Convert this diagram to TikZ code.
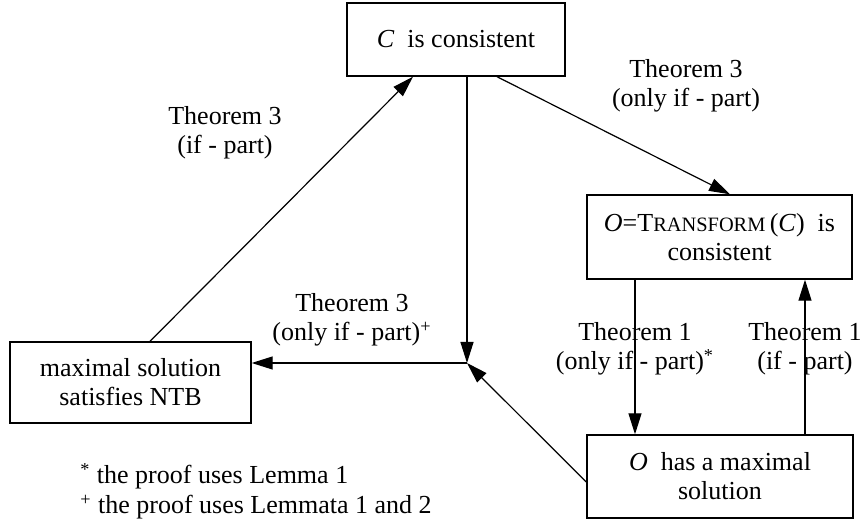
\documentclass[tikz,border=0pt]{standalone}
\usepackage{fontspec}
\setmainfont{Liberation Serif}
\usetikzlibrary{arrows.meta,calc}
\newcommand{\dfont}{\fontsize{13}{14.5}\selectfont}
\newcommand{\scsize}{\fontsize{10.2}{10.2}\selectfont}
\begin{document}
\begin{tikzpicture}[x=0.5pt,y=-0.5pt,
  every node/.style={font=\dfont},
  box/.style={draw, line width=0.7pt, inner sep=0pt, align=center},
  lbl/.style={align=center, inner sep=0pt},
  note/.style={anchor=base west, inner sep=0pt},
  arr/.style={line width=0.6pt, -{Triangle[length=10.5pt,width=6.5pt]}}]
\useasboundingbox (0,0) rectangle (864,524);
% boxes
\node[box, minimum width=109pt, minimum height=36.5pt] (T) at (456,39.5) {\textit{C}\ \ is consistent};
\node[box, minimum width=132.5pt, minimum height=42pt] (R) at (719.5,237) {\textit{O}=T{\scsize RANSFORM}\,(\textit{C})\ \ is\\consistent};
\node[box, minimum width=133pt, minimum height=41.5pt] (B) at (720,476.5) {\textit{O}\ \ has a maximal\\solution};
\node[box, minimum width=120.5pt, minimum height=40.5pt] (L) at (130.5,382.5) {maximal solution\\satisfies NTB};
% labels
\node[lbl] (l1) at (225,133) {Theorem 3\\(if - part)};
\node[lbl] (l2) at (686,86) {Theorem 3\\(only if - part)};
\node[lbl] (l3) at (352,320) {Theorem 3\\(only if - part)\textsuperscript{+}};
\node[lbl] (l4) at (635,349) {Theorem 1\\(only if - part)\textsuperscript{*}};
\node[lbl] (l5) at (805,349) {Theorem 1\\(if - part)};
% footnotes
\node[note] (f1) at (80,484) {\textsuperscript{*} the proof uses Lemma 1};
\node[note] (f2) at (80,514) {\textsuperscript{+} the proof uses Lemmata 1 and 2};
% connectors
\coordinate (J) at (467,363);
\draw[arr] ($(L.north)+(19.5,0)$) -- ($(T.south)+(-43,0)$);
\draw[arr] ($(T.south)+(11,0)$) -- (J);
\draw[arr] ($(T.south)+(41,0)$) -- ($(R.north)+(10.5,0)$);
\coordinate (a) at ($(R.south)+(-84.5,0)$);
\draw[arr] (a) -- (a |- B.north);
\coordinate (b) at ($(B.north)+(85,0)$);
\draw[arr] (b) -- (b |- R.south);
\draw[arr] ($(B.west)+(0,5.5)$) -- (J);
\draw[arr] (J) -- (J -| L.east);
\end{tikzpicture}
\end{document}
